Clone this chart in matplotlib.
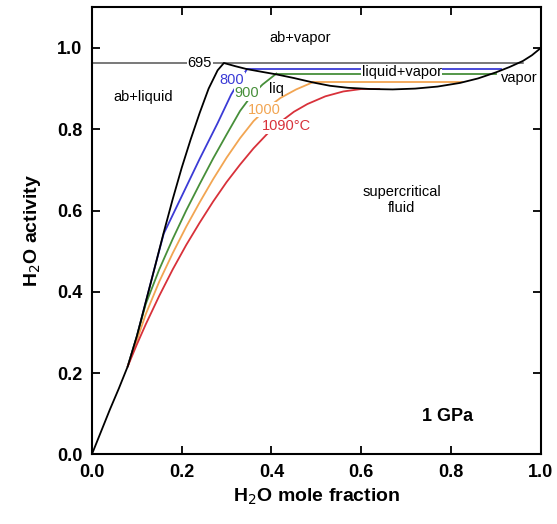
import matplotlib.pyplot as plt

plt.rcParams['font.family'] = ['Liberation Sans', 'DejaVu Sans']

# black boundary: ab+liquid branch up to the 695 point, then the liquid/vapor solvus
black_x = [0.0, 0.02, 0.04, 0.06, 0.08, 0.1, 0.12, 0.14, 0.16, 0.18, 0.2, 0.22, 0.24,
           0.26, 0.28, 0.294, 0.32, 0.345, 0.38, 0.411, 0.45, 0.493, 0.53, 0.57, 0.62,
           0.67, 0.72, 0.77, 0.82, 0.86, 0.9, 0.93, 0.96, 0.98, 1.0]
black_y = [0.0, 0.055, 0.11, 0.162, 0.217, 0.29, 0.375, 0.46, 0.546, 0.628, 0.705, 0.775,
           0.84, 0.9, 0.945, 0.963, 0.955, 0.948, 0.941, 0.935, 0.926, 0.915, 0.907, 0.902,
           0.899, 0.898, 0.9, 0.905, 0.914, 0.925, 0.94, 0.953, 0.968, 0.982, 1.0]

# isotherms (°C)
iso_800_x = [0.08, 0.1, 0.12, 0.14, 0.16, 0.2, 0.24, 0.28, 0.31, 0.33, 0.345]
iso_800_y = [0.217, 0.29, 0.375, 0.46, 0.543, 0.635, 0.727, 0.815, 0.885, 0.922, 0.947]
iso_900_x = [0.08, 0.1, 0.12, 0.15, 0.18, 0.21, 0.24, 0.27, 0.3, 0.33, 0.355, 0.38, 0.411]
iso_900_y = [0.217, 0.29, 0.37, 0.455, 0.53, 0.6, 0.665, 0.728, 0.787, 0.845, 0.882, 0.91, 0.937]
iso_1000_x = [0.08, 0.1, 0.12, 0.15, 0.18, 0.21, 0.24, 0.27, 0.3, 0.33, 0.36, 0.39,
              0.42, 0.455, 0.493]
iso_1000_y = [0.217, 0.28, 0.345, 0.425, 0.495, 0.56, 0.62, 0.677, 0.73, 0.778, 0.82, 0.852,
              0.877, 0.898, 0.916]
iso_1090_x = [0.08, 0.1, 0.12, 0.15, 0.18, 0.21, 0.24, 0.27, 0.3, 0.33, 0.36, 0.39,
              0.42, 0.45, 0.48, 0.52, 0.56, 0.6, 0.64]
iso_1090_y = [0.217, 0.27, 0.32, 0.39, 0.455, 0.515, 0.57, 0.622, 0.67, 0.713, 0.753, 0.788,
              0.818, 0.843, 0.862, 0.881, 0.893, 0.899, 0.899]

# liquid+vapor tie lines: level, left end, right end
tie_y = [0.948, 0.937, 0.916]
tie_left = [0.345, 0.411, 0.493]
tie_right = [0.912, 0.9, 0.824]

solidus_695 = 0.963

blue, green, orange, red = '#3b3bd6', '#478f3a', '#f2a552', '#d8313a'
tie_colors = [blue, green, orange]
fs = 10.5

fig = plt.figure(figsize=(5.57, 5.24), dpi=100)
ax = fig.add_axes([0.165, 0.133, 0.806, 0.853])

ax.plot([0, 0.96], [solidus_695, solidus_695], color='#555555', lw=1.1, zorder=1)
for y, x0, x1, c in zip(tie_y, tie_left, tie_right, tie_colors):
    ax.plot([x0, x1], [y, y], color=c, lw=1.3, zorder=2)

ax.plot(iso_800_x, iso_800_y, color=blue, lw=1.3, zorder=3)
ax.plot(iso_900_x, iso_900_y, color=green, lw=1.3, zorder=3)
ax.plot(iso_1000_x, iso_1000_y, color=orange, lw=1.3, zorder=3)
ax.plot(iso_1090_x, iso_1090_y, color=red, lw=1.3, zorder=3)
ax.plot(black_x, black_y, color='black', lw=1.3, zorder=4)

wb = dict(facecolor='white', edgecolor='none', pad=0.5)
ax.text(0.24, 0.963, '695', fontsize=fs, ha='center', va='center', bbox=wb, zorder=5)
ax.text(0.69, 0.94, 'liquid+vapor', fontsize=fs, ha='center', va='center', bbox=wb, zorder=5)
ax.text(0.311, 0.921, '800', fontsize=fs, color=blue, ha='center', va='center', bbox=wb, zorder=5)
ax.text(0.345, 0.889, '900', fontsize=fs, color=green, ha='center', va='center', bbox=wb, zorder=5)
ax.text(0.412, 0.899, 'liq', fontsize=fs, ha='center', va='center', zorder=5)
ax.text(0.385, 0.848, '1000', fontsize=fs, color=orange, ha='center', va='center', bbox=wb, zorder=5)
ax.text(0.434, 0.807, '1090°C', fontsize=fs, color=red, ha='center', va='center', bbox=wb, zorder=5)
ax.text(0.463, 1.025, 'ab+vapor', fontsize=fs, ha='center', va='center')
ax.text(0.115, 0.88, 'ab+liquid', fontsize=fs, ha='center', va='center')
ax.text(0.951, 0.926, 'vapor', fontsize=fs, ha='center', va='center')
ax.text(0.69, 0.626, 'supercritical\nfluid', fontsize=fs, ha='center', va='center')
ax.text(0.793, 0.092, '1 GPa', fontsize=13, fontweight='bold', ha='center', va='center')

ax.set_xlim(0, 1)
ax.set_ylim(0, 1.1)
ax.set_xticks([0, 0.2, 0.4, 0.6, 0.8, 1.0])
ax.set_yticks([0, 0.2, 0.4, 0.6, 0.8, 1.0])
ax.tick_params(direction='in', length=6, width=1.3, top=True, right=True, labelsize=13, pad=7)
for lab in ax.get_xticklabels() + ax.get_yticklabels():
    lab.set_fontweight('bold')
for s in ax.spines.values():
    s.set_linewidth(1.5)
ax.set_xlabel('H$_2$O mole fraction', fontsize=14, fontweight='bold', labelpad=4)
ax.set_ylabel('H$_2$O activity', fontsize=14, fontweight='bold', labelpad=10)

fig.savefig('out.png', dpi=100)
